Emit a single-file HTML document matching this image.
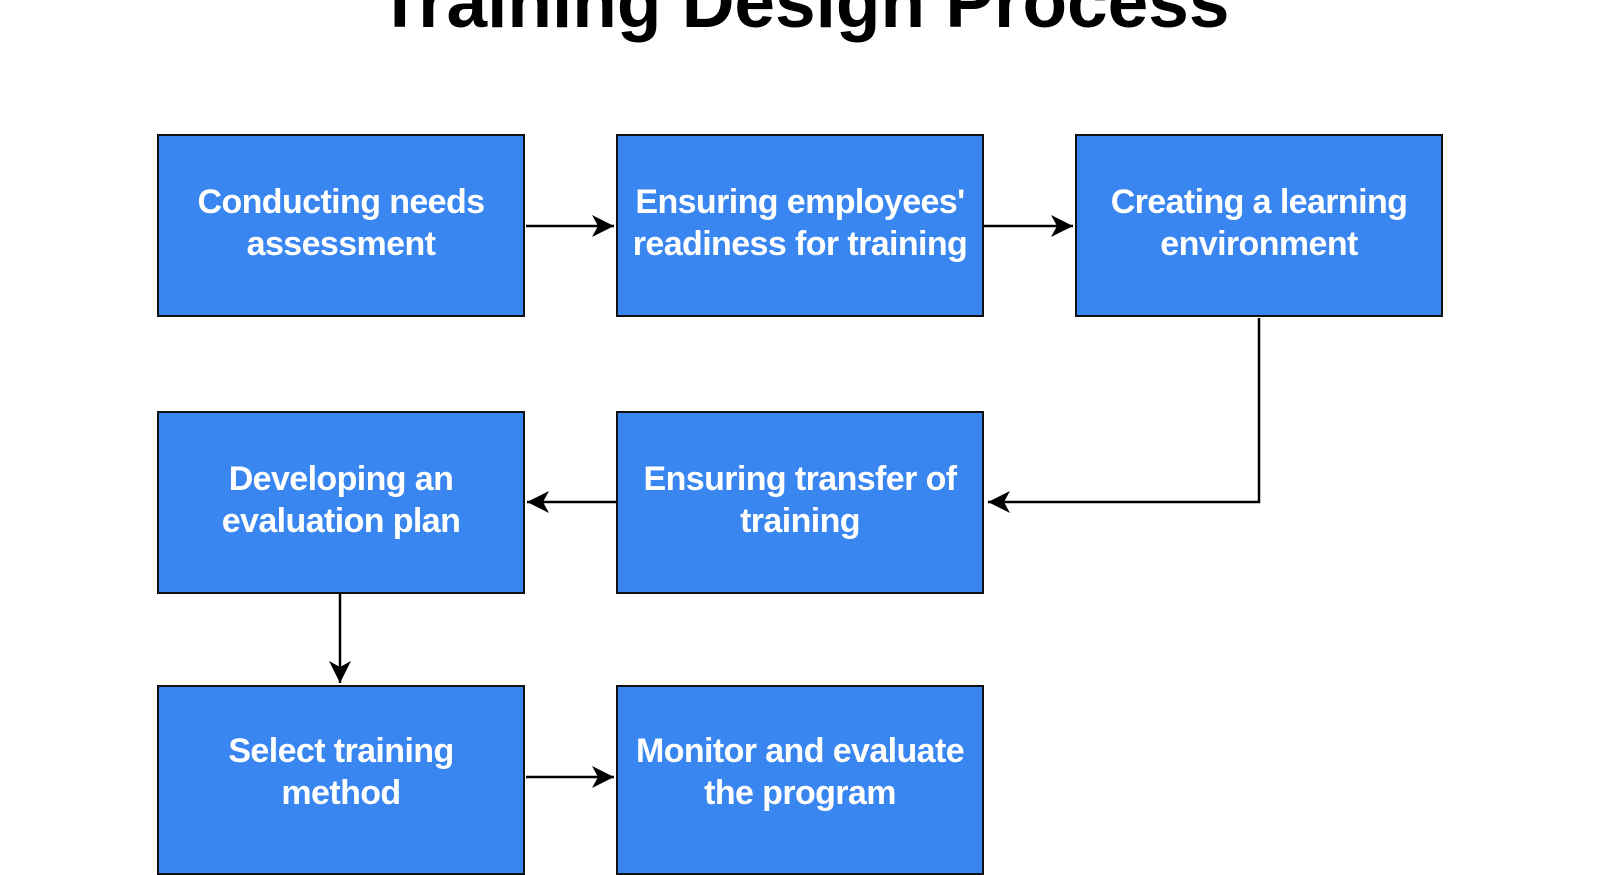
<!DOCTYPE html>
<html><head><meta charset="utf-8"><style>
html,body{margin:0;padding:0;background:#fff;}
body{width:1607px;height:848px;overflow:hidden;position:relative;font-family:"Liberation Sans",Arial,sans-serif;}
.t{position:absolute;left:0;width:1607px;text-align:center;top:-37px;font-size:73px;font-weight:bold;color:#000;line-height:80px;}
.b{position:absolute;width:368px;height:183px;background:#3a86f0;border:2.5px solid #111;box-sizing:border-box;display:flex;align-items:center;justify-content:center;text-align:center;color:#fff;font-size:34px;font-weight:bold;line-height:42px;letter-spacing:-0.6px;padding-bottom:6px;}
svg{position:absolute;left:0;top:0;}
</style></head><body>
<div class="t">Training Design Process</div>
<div class="b" style="left:157px;top:134px">Conducting needs<br>assessment</div>
<div class="b" style="left:616px;top:134px">Ensuring employees'<br>readiness for training</div>
<div class="b" style="left:1075px;top:134px">Creating a learning<br>environment</div>
<div class="b" style="left:157px;top:411px">Developing an<br>evaluation plan</div>
<div class="b" style="left:616px;top:411px">Ensuring transfer of<br>training</div>
<div class="b" style="left:157px;top:685px;height:190px;padding-bottom:16px">Select training<br>method</div>
<div class="b" style="left:616px;top:685px;height:190px;padding-bottom:16px">Monitor and evaluate<br>the program</div>
<svg width="1607" height="848">
<defs><marker id="a" markerWidth="24" markerHeight="24" refX="22" refY="12" orient="auto" markerUnits="userSpaceOnUse" viewBox="0 0 24 24"><path d="M0,1 L22,12 L0,23 L6,12 Z" fill="#000"/></marker></defs>
<g stroke="#000" stroke-width="2.5" fill="none">
<path d="M526,226 L614,226" marker-end="url(#a)"/>
<path d="M984,226 L1073,226" marker-end="url(#a)"/>
<path d="M1259,318 L1259,502 L988,502" marker-end="url(#a)"/>
<path d="M616,502 L527,502" marker-end="url(#a)"/>
<path d="M340,594 L340,683" marker-end="url(#a)"/>
<path d="M526,777 L614,777" marker-end="url(#a)"/>
</g></svg>
</body></html>
